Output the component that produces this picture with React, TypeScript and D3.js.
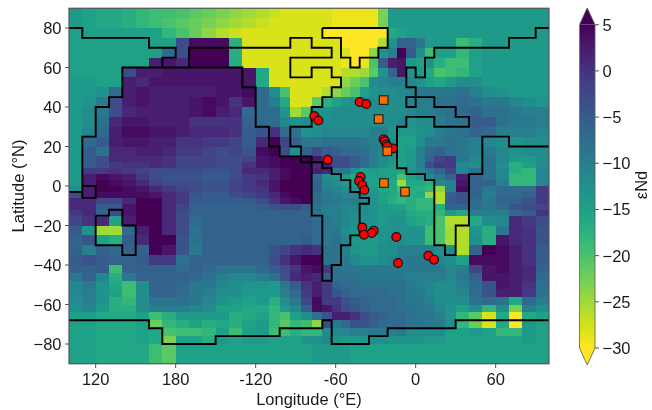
import * as d3 from 'd3';

// cell edges of the model grid (stretched over the Atlantic, finer near the equator)
const lonEdges = [
  100, 110, 120, 130, 140, 150, 160, 170, 180, 190, 200, 210, 220, 230, 240, 250,
  258, 266, 274, 282, 290, 297, 304, 311, 318, 325, 332, 339, 346, 353, 360, 367, 374,
  382, 390, 400, 410, 420, 430, 440, 450, 460,
];
const latEdges = [
  90, 85, 80, 75, 70, 65, 60, 55, 50, 45, 40, 35, 30, 25, 20, 15,
  12, 9, 6, 3, 0, -3, -6, -9, -12, -15,
  -20, -25, -30, -35, -40,
  -44, -48, -52, -56, -60, -64, -68, -72, -76, -80, -90,
];

// eNd per cell, north to south, west to east
const eNd = [
  [-14,-15,-16,-16,-17,-18,-19,-19,-20,-21,-22,-23,-24,-25,-26,-27,-28,-28,-28,-28,-28,-29,-29,-29,-29,-29,-23,-14,-14,-14,-14,-14,-14,-14,-14,-14,-14,-14,-14,-14,-14],
  [-14,-15,-16,-16,-17,-18,-19,-20,-21,-22,-23,-24,-25,-26,-27,-28,-28,-28,-28,-28,-28,-29,-29,-29,-29,-29,-23,-14,-14,-14,-14,-14,-14,-14,-14,-14,-14,-14,-14,-14,-14],
  [-15,-15,-15,-15,-15,-15,-15,-18,-20,-22,-24,-26,-27,-28,-28,-28,-28,-28,-28,-28,-30,-30,-30,-30,-30,-30,-30,-16,-15,-14,-14,-14,-14,-14,-14,-14,-14,-14,-14,-14,-14],
  [-15,-15,-15,-15,-15,-15,-15,-15,-3,4,4,4,-17,-28,-28,-28,-28,-28,-28,-28,-28,-28,-30,-30,-30,-30,-26,-13,-6,-6,-9,-14,-14,-14,-19,-17,-14,-14,-14,-14,-14],
  [-15,-15,-15,-15,-15,-15,-15,-7,-3,5,5,5,-17,-28,-28,-28,-28,-28,-28,-28,-28,-28,-28,-30,-30,-24,-13,-10,5,-5,-12,-19,-15,-15,-18,-15,-14,-14,-14,-14,-14],
  [-15,-15,-15,-15,-15,-15,2,3,1,5,5,5,-17,-28,-28,-28,-28,-28,-28,-28,-28,-28,-29,-30,-29,-20,-5,2,3,-14,-15,-13,-17,-19,-19,-15,-14,-14,-14,-14,-14],
  [-15,-15,-15,-15,-3,2,2,3,3,3,3,3,3,3,-16,-28,-28,-28,-28,-28,-28,-28,-26,-26,-25,-21,-13,-6,3,-13,-14,-16,-20,-19,-18,-15,-14,-14,-14,-14,-14],
  [-14,-14,-15,-15,2,1,3,3,3,3,3,3,3,3,-16,-28,-28,-28,-28,-28,-28,-28,-24,-22,-20,-12,-11,-10,-10,-11,-13,-15,-16,-14,-12,-12,-14,-14,-14,-14,-14],
  [-14,-14,-13,-7,2,3,2,2,2,2,2,3,3,4,-7,-12,-20,-28,-28,-28,-26,-24,-22,-20,-15,-13,-12,-12,-11,-11,-9,-9,-9,-9,-8,-10,-12,-13,-14,-14,-14],
  [-14,-13,-10,-3,2,3,2,2,2,3,4,3,0,3,-7,-10,-16,-28,-28,-21,-17,-15,-13,-12,-12,-12,-12,-12,-12,-11,-10,-10,-8,-8,-7,-8,-9,-9,-11,-12,-13],
  [-14,-12,-9,-3,1,2,2,2,2,3,4,2,1,-7,-7,-7,-13,-25,-21,-13,-13,-12,-12,-12,-12,-12,-12,-12,-12,-11,-10,-10,-9,-8,-7,-6,-8,-8,-9,-10,-10],
  [-14,-12,-8,1,3,3,2,2,2,0,0,0,0,-6,-7,-7,-11,-13,-12,-13,-12,-12,-12,-12,-12,-12,-12,-12,-11,-13,-12,-12,-10,-8,-8,-5,-5,-8,-9,-9,-10],
  [-14,-11,-7,2,4,4,3,3,2,1,1,1,0,-5,-4,0,-7,-8,-13,-12,-11,-11,-11,-11,-11,-10,-10,-13,-14,-14,-13,-12,-10,-9,-8,-6,-7,-10,-10,-10,-11],
  [-14,-7,-5,2,3,3,2,2,0,0,-1,-1,-2,-5,1,5,-2,-6,-9,-9,-8,-8,-8,-8,-9,-10,-10,-12,-15,-15,-12,-9,-9,-8,-9,-10,-11,-12,-13,-12,-12],
  [-14,-5,-8,1,1,2,2,1,-1,-1,-2,-3,-2,-4,4,5,-3,-12,-6,-3,-5,-6,-7,-7,-8,-10,-11,-13,-15,-14,-10,-7,-6,-8,-9,-10,-9,-11,-13,-12,-12],
  [-14,-5,-3,1,1,1,1,0,-2,-2,-2,-3,-3,-2,3,4,5,5,5,3,-2,-3,-3,-5,-7,-10,-11,-13,-15,-14,-10,-6,-2,-1,-9,-11,-8,-11,-14,-14,-12],
  [-14,-5,-3,-1,0,0,1,0,-2,-2,-2,-3,-3,0,3,4,5,5,5,1,2,-3,-3,-5,-7,-10,-12,-14,-15,-14,-10,-3,-1,-1,-11,-12,-8,-12,-17,-15,-12],
  [-14,-1,-1,0,-1,-2,-3,-3,-3,-3,-4,-4,-3,1,1,2,4,5,5,2,1,-9,-9,-12,-15,-14,-15,-15,-16,-13,-11,-9,-6,-2,-11,-8,-8,-11,-17,-18,-11],
  [-14,2,4,3,2,-1,-3,-4,-4,-4,-5,-5,-3,-1,0,2,4,5,5,-7,-12,-13,-14,-16,-15,-15,-15,-15,-20,-15,-13,-11,-9,-6,2,-6,-8,-11,-18,-18,-11],
  [-14,2,5,4,3,1,-2,-3,-3,-3,-4,-4,-2,-1,1,3,5,5,5,-6,-11,-12,-14,-15,-14,-15,-16,-16,-25,-16,-16,-17,-11,-10,3,-6,-6,-10,-18,-18,-11],
  [-12,2,5,5,4,3,1,-1,-2,-3,-4,-4,-2,-1,0,3,5,5,5,-6,-10,-11,-12,-13,-13,-14,-16,-16,-19,-17,-17,-18,-24,-10,4,-6,-9,-7,-7,-7,-1],
  [-3,2,4,4,4,4,3,1,-1,-4,-5,-5,-3,-2,-1,1,4,5,5,-7,-9,-10,-11,-11,-11,-13,-15,-16,-18,-17,-16,-24,-26,-6,-4,-6,-10,-7,-7,-6,-1],
  [1,1,-2,-2,1,5,5,1,-1,-5,-5,-5,-5,-5,-3,0,3,4,5,-7,-9,-9,-10,-10,-11,-13,-15,-17,-18,-17,-18,-18,-26,-5,-4,-7,-9,-6,-6,-4,-1],
  [1,1,-5,-5,3,5,5,1,-2,-6,-6,-6,-6,-6,-5,-4,-3,-3,-5,-8,-10,-10,-11,-11,-12,-13,-14,-15,-15,-17,-18,-18,-17,-6,-6,-7,-9,-7,-4,-3,-2],
  [-1,1,-6,-3,3,5,5,1,-3,-6,-6,-6,-6,-6,-6,-6,-6,-6,-6,-8,-10,-10,-11,-12,-12,-13,-14,-14,-14,-16,-17,-17,-18,-14,-16,-10,-10,-10,-7,-5,0],
  [-2,0,1,-15,2,5,5,1,-3,-7,-6,-6,-6,-6,-6,-6,-6,-6,-6,-7,-9,-10,-11,-12,-13,-13,-14,-13,-13,-15,-16,-17,-20,-26,-26,-16,-12,-11,1,-1,-3],
  [-5,-13,-25,-25,-7,2,5,1,-3,-8,-6,-6,-6,-6,-6,-6,-6,-6,-6,-7,-9,-9,-12,-13,-13,-13,-13,-13,-13,-13,-13,-19,-20,-25,-26,-13,-17,-9,1,0,-4],
  [-6,-4,-15,-17,-5,1,5,5,-4,-8,-6,-6,-6,-6,-6,-6,-6,-6,-5,-7,-9,-8,-11,-14,-14,-14,-13,-12,-12,-13,-13,-19,-20,-25,-26,-12,-17,3,1,0,-4],
  [-6,-10,-6,-7,-6,-6,5,3,-4,-9,-6,-6,-6,-6,-6,-4,-2,0,1,0,-8,-8,-10,-13,-14,-14,-12,-12,-10,-10,-10,-10,-12,-12,-26,-6,5,4,2,0,-5],
  [-5,-4,-5,-6,-6,-5,-1,-1,-8,-6,-6,-6,-6,-6,-6,-3,0,3,5,5,-8,-8,-9,-11,-13,-13,-12,-11,-10,-9,-9,-9,-11,-12,-15,4,4,4,2,0,-5],
  [-6,-6,-5,-19,-6,-6,-6,-6,-7,-6,-7,-8,-8,-8,-7,-5,-3,0,3,4,-1,-8,-9,-9,-9,-9,-9,-9,-9,-9,-9,-9,-9,-11,-10,-2,3,4,2,1,-6],
  [-9,-6,-11,-17,-9,-6,-6,-6,-6,-7,-8,-10,-11,-11,-10,-8,-4,1,2,1,-5,-8,-8,-8,-9,-9,-9,-9,-9,-10,-10,-10,-10,-11,-9,-6,3,3,2,1,-7],
  [-11,-9,-13,-16,-19,-12,-6,-6,-7,-9,-9,-11,-12,-13,-13,-14,-9,-5,0,2,-1,-6,-7,-7,-8,-8,-8,-8,-8,-9,-10,-11,-12,-12,-10,-7,-4,3,2,0,-8],
  [-11,-10,-13,-15,-19,-12,-6,-6,-7,-9,-10,-12,-12,-14,-14,-14,-10,-7,-1,2,-1,-4,-6,-7,-7,-7,-7,-8,-8,-9,-9,-11,-12,-12,-11,-7,-4,2,2,-1,-8],
  [-12,-10,-13,-17,-18,-12,-8,-8,-8,-9,-11,-13,-14,-15,-14,-17,-12,-9,-2,4,-1,-1,-4,-5,-6,-7,-7,-7,-8,-9,-9,-10,-12,-12,-12,-8,-7,-8,-16,-7,-10],
  [-13,-11,-14,-17,-17,-12,-10,-10,-10,-11,-12,-15,-15,-16,-16,-18,-14,-11,-5,4,3,0,-3,-4,-6,-7,-7,-7,-8,-8,-9,-9,-11,-13,-15,-12,-18,-12,-23,-10,-12],
  [-15,-15,-16,-16,-16,-15,-19,-17,-14,-14,-14,-14,-17,-16,-15,-18,-20,-15,-12,-8,-4,2,2,0,-3,-5,-6,-7,-7,-8,-9,-9,-10,-13,-18,-21,-28,-16,-30,-16,-15],
  [-15,-15,-16,-16,-16,-15,-22,-18,-17,-15,-17,-16,-17,-15,-14,-18,-21,-18,-19,-24,-3,-9,-7,-4,-4,-6,-7,-7,-7,-8,-8,-9,-9,-12,-18,-22,-28,-16,-30,-14,-15],
  [-15,-15,-16,-16,-16,-15,-16,-20,-19,-19,-18,-15,-19,-15,-14,-19,-19,-17,-18,-18,-12,-11,-11,-10,-10,-9,-9,-10,-9,-12,-12,-12,-12,-15,-15,-14,-15,-18,-18,-14,-15],
  [-15,-15,-16,-16,-16,-15,-16,-23,-15,-15,-17,-14,-15,-14,-14,-15,-15,-15,-13,-13,-11,-13,-14,-14,-13,-12,-12,-13,-13,-13,-13,-14,-14,-15,-15,-15,-15,-15,-15,-14,-15],
  [-15,-15,-16,-16,-16,-16,-19,-21,-15,-15,-15,-15,-15,-15,-15,-15,-15,-15,-15,-14,-14,-14,-14,-15,-15,-15,-15,-15,-15,-15,-15,-15,-15,-15,-15,-15,-15,-15,-15,-15,-15],
];

// coastlines as [lon, lat] runs along the grid edges
const coastAmericas: [number, number][] = [
  [170,60],[190,60],
  [190,70],[266,70],[266,75],[282,75],[282,70],[297,70],[297,65],[266,65],[266,55],[282,55],
  [282,60],[297,60],[297,55],[304,55],[304,50],[297,50],[297,45],[290,45],[290,40],[282,40],
  [282,30],[266,30],[266,20],[274,20],[274,12],[290,12],[290,9],[297,9],[297,6],[304,6],
  [304,3],[311,3],[311,-3],[318,-3],[318,-6],[325,-6],[325,-9],[318,-9],[318,-25],[311,-25],
  [311,-30],[304,-30],[304,-40],[297,-40],[297,-48],[290,-48],[290,-15],[282,-15],[282,15],[258,15],
  [258,20],[250,20],[250,30],[240,30],[240,50],[230,50],[230,60],[190,60],
];
const coastAsia: [number, number][] = [
  [100,80],[110,80],[110,75],[160,75],[160,70],[180,70],[180,65],[170,65],[170,60],[140,60],
  [140,45],[130,45],[130,40],[120,40],[120,25],[110,25],[110,-6],[120,-6],[120,0],[110,0],
];
const coastAsiaEdge: [number, number][] = [[100,-3],[110,-3]];
const coastIsland: [number, number][] = [
  [120,-15],[130,-15],[130,-12],[140,-12],[140,-20],[150,-20],[150,-35],[140,-35],[140,-30],[120,-30],[120,-15],
];
const coastGreenland: [number, number][] = [
  [290,80],[339,80],[339,70],[332,70],[332,65],[318,65],[318,60],[311,60],[311,65],[304,65],[304,75],[290,75],[290,80],
];
const coastEurafrica: [number, number][] = [
  [460,80],[450,80],[450,75],[430,75],[430,70],[374,70],[374,65],[367,65],[367,55],[360,55],
  [360,60],[353,60],[353,50],[360,50],[360,40],[353,40],[353,45],[374,45],[374,40],[390,40],
  [390,35],[400,35],[400,30],[374,30],[374,35],[353,35],[353,30],[346,30],[346,9],[353,9],
  [353,6],[367,6],[367,3],[374,3],[374,-30],[382,-30],[382,-35],[390,-35],[390,-20],[400,-20],
  [400,6],[410,6],[410,25],[430,25],[430,20],[460,20],
];
const coastAntarctica: [number, number][] = [
  [100,-68],[160,-68],[160,-72],[170,-72],[170,-80],[210,-80],[210,-76],[258,-76],[258,-72],[290,-72],
  [290,-68],[297,-68],[297,-80],[325,-80],[325,-76],[339,-76],[339,-72],[390,-72],[390,-68],[460,-68],
];
const coastlines = [
  coastAmericas, coastAsia, coastAsiaEdge, coastIsland, coastGreenland, coastEurafrica, coastAntarctica,
];

// proxy sites: [lon E, lat N]
const circleSites: [number, number][] = [
  [-42,42.5],[-37,41.5],[-76,35.4],[-73,33.2],[-24,23.6],[-23,22.6],[-22,21],[-17,19],[-21.3,20],
  [-66,13.3],[-41.3,4.6],[-42.5,2.5],[-40,0.3],[-38.5,-2],[-31.5,-22.6],[-33,-23.8],[-40,-21],[-38.8,-24.7],
  [-14.5,-25.8],[-13.2,-39],[9.5,-35.3],[13.8,-37.3],
];
const squareSites: [number, number][] = [
  [-24,43.5],[-27.8,33.9],[-21.3,17.6],[-23.8,1.5],[-8,-2.9],
];

const lonTicks = [120, 180, 240, 300, 360, 420];
const lonLabels = ['120', '180', '-120', '-60', '0', '60'];
const latTicks = [80, 60, 40, 20, 0, -20, -40, -60, -80];
const barTicks = [5, 0, -5, -10, -15, -20, -25, -30];

const FONT = '"Liberation Sans", Arial, sans-serif';
const FS = 16.5;
const AXIS = '#555';

const minus = (v: number) => String(v).replace('-', '\u2212');

export default function App() {
  const x = d3.scaleLinear().domain([100, 460]).range([69, 549]);
  const y = d3.scaleLinear().domain([90, -90]).range([8.25, 363.75]);
  const color = d3.scaleSequential(d3.interpolateViridis).domain([5, -30]);
  const bar = d3.scaleLinear().domain([5, -30]).range([24.7, 348]);
  const line = d3.line<[number, number]>().x((d) => x(d[0])).y((d) => y(d[1]));
  const barSteps = d3.range(0, 256).map((i) => 5 - (35 * i) / 256);
  const lonOf = (lon: number) => (lon < 100 ? lon + 360 : lon);

  return (
    <svg
      width={652}
      height={410}
      style={{ position: 'fixed', left: 0, top: 0, background: '#fff', filter: 'blur(0.4px)' }}
      fontFamily={FONT}
      fontSize={FS}
      fill="#1a1a1a"
    >
      <g shapeRendering="crispEdges">
        {eNd.map((row, r) =>
          row.map((v, c) => (
            <rect
              key={`${r}-${c}`}
              x={x(lonEdges[c])}
              y={y(latEdges[r])}
              width={x(lonEdges[c + 1]) - x(lonEdges[c])}
              height={y(latEdges[r + 1]) - y(latEdges[r])}
              fill={color(v)}
            />
          )),
        )}
      </g>

      {coastlines.map((c, i) => (
        <path key={i} d={line(c) as string} fill="none" stroke="#000" strokeWidth={1.9} strokeLinejoin="miter" />
      ))}

      {circleSites.map((d, i) => (
        <circle key={i} cx={x(lonOf(d[0]))} cy={y(d[1])} r={4.4} fill="#f00" stroke="#111" strokeWidth={1.2} />
      ))}
      {squareSites.map((d, i) => (
        <rect
          key={i}
          x={x(lonOf(d[0])) - 4.3}
          y={y(d[1]) - 4.3}
          width={8.6}
          height={8.6}
          fill="#ff6f00"
          stroke="#222"
          strokeWidth={1.2}
        />
      ))}

      <rect x={69} y={8.25} width={480} height={355.5} fill="none" stroke={AXIS} strokeWidth={1.2} />

      {lonTicks.map((t, i) => (
        <g key={t}>
          <line x1={x(t)} x2={x(t)} y1={364} y2={368} stroke={AXIS} />
          <text x={x(t)} y={385} textAnchor="middle">{lonLabels[i]}</text>
        </g>
      ))}
      {latTicks.map((t) => (
        <g key={t}>
          <line x1={65} x2={69} y1={y(t)} y2={y(t)} stroke={AXIS} />
          <text x={61.5} y={y(t) + 6} textAnchor="end">{minus(t)}</text>
        </g>
      ))}
      <text x={309} y={405} textAnchor="middle">Longitude (°E)</text>
      <text transform="translate(24,186) rotate(-90)" textAnchor="middle">Latitude (°N)</text>

      {/* colorbar */}
      <g shapeRendering="crispEdges">
        {barSteps.map((v) => (
          <rect key={v} x={579.5} y={bar(v)} width={15.5} height={(348 - 24.7) / 256 + 0.6} fill={color(v)} />
        ))}
      </g>
      <path d="M579.5,24.7 L587.2,8 L595,24.7 Z" fill={color(5)} />
      <path d="M579.5,348 L587.2,365 L595,348 Z" fill={color(-30)} />
      <path d="M579.5,24.7 L587.2,8 L595,24.7 L595,348 L587.2,365 L579.5,348 Z" fill="none" stroke={AXIS} strokeWidth={0.8} />
      {barTicks.map((t) => (
        <g key={t}>
          <line x1={595} x2={599} y1={bar(t)} y2={bar(t)} stroke={AXIS} />
          <text x={602.5} y={bar(t) + 6}>{minus(t)}</text>
        </g>
      ))}
      <text transform="translate(647,185) rotate(-90)" textAnchor="middle">εNd</text>
    </svg>
  );
}
